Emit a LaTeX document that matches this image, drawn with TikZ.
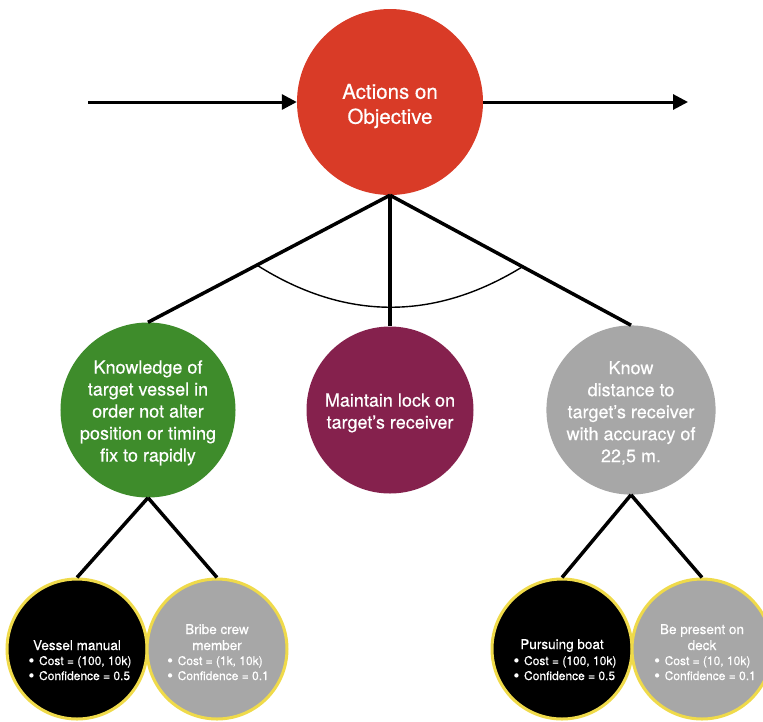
\documentclass[tikz,border=0pt]{standalone}
\usepackage{fontspec}
\setmainfont{TeX Gyre Heros}[FakeBold=0.4]
\usetikzlibrary{arrows.meta,calc}

\definecolor{goalred}{HTML}{D93B27}
\definecolor{subgreen}{HTML}{3E8C2B}
\definecolor{submaroon}{HTML}{85214D}
\definecolor{subgray}{HTML}{A7A7A7}
\definecolor{leafyellow}{HTML}{EFDA4A}

\begin{document}
\begin{tikzpicture}[x=1pt,y=-1pt,
  disc/.style={circle, inner sep=0pt, text=white, align=center},
  goalnode/.style={disc, fill=goalred, minimum size=186pt,
    font=\fontsize{20.5}{25}\selectfont},
  subnode/.style={disc, minimum size=167pt,
    font=\fontsize{18}{22}\selectfont},
  leafnode/.style={circle, inner sep=0pt, minimum size=140pt,
    draw=leafyellow, line width=3pt},
  leaftitle/.style={text=white, inner sep=0pt, anchor=base,
    font=\fontsize{13.5}{16}\selectfont},
  leafitems/.style={text=white, inner sep=0pt, anchor=base,
    font=\fontsize{12}{15}\selectfont},
  link/.style={line width=3.5pt},
  flow/.style={line width=3pt, -{Triangle[length=15pt,width=15pt]}},
  andarc/.style={line width=1.4pt}
]
\useasboundingbox (0,0) rectangle (763,721);
% bullet used in the leaf lists
\newcommand{\itm}{\raisebox{-1pt}{\scalebox{1.35}{\textbullet}}\hspace{0.4em}}
% first-line strut that lowers a centred text block
\newcommand{\lowerby}[2]{\rule{0pt}{#1}#2}

% top goal and its flow arrows
\node[goalnode] (goal) at (390,102) {\lowerby{23pt}{Actions on}\\Objective};
\coordinate (flowin) at (88,102);
\coordinate (flowout) at (688,102);
\draw[flow] (flowin) -- (goal.west);
\draw[flow] (goal.east) -- (flowout);

% sub-goals
\node[subnode, fill=subgreen] (know) at (148,410)
  {\lowerby{19pt}{Knowledge of}\\target vessel in\\order not alter\\position or timing\\fix to rapidly};
\node[subnode, fill=submaroon] (lock) at (390,410)
  {\lowerby{19pt}{Maintain lock on}\\target’s receiver};
\node[subnode, fill=subgray] (dist) at (631,410)
  {\lowerby{19pt}{Know}\\distance to\\target’s receiver\\with accuracy of\\22,5 m.};

\draw[link] (goal.south) -- (know.north);
\draw[link] (goal.south) -- (lock.north);
\draw[link] (goal.south) -- (dist.north);

% AND arc across the three branches
\coordinate (arcL) at ($(goal.south)!0.55!(know.north)$);
\coordinate (arcR) at ($(goal.south)!0.55!(dist.north)$);
\draw[andarc] (arcL) to[bend right=32] (arcR);

% leaves
\node[leafnode, fill=black] (manual) at (77,649) {};
\node[leafnode, fill=subgray] (bribe) at (217,649) {};
\node[leafnode, fill=black] (boat) at (562,649) {};
\node[leafnode, fill=subgray] (deck) at (702,649) {};

\draw[link] (know.south) -- (manual.north);
\draw[link] (know.south) -- (bribe.north);
\draw[link] (dist.south) -- (boat.north);
\draw[link] (dist.south) -- (deck.north);

% leaf texts
\node[leaftitle] (manualt) at ($(manual.center)+(0,1)$)
  {\begin{tabular}[b]{@{}c@{}}Vessel manual\end{tabular}};
\node[leafitems] (manuali) at ($(manual.center)+(3,16)$)
  {\begin{tabular}[t]{@{}l@{}}\itm Cost = (100, 10k)\\\itm Confidence = 0.5\end{tabular}};

\node[leaftitle] (bribet) at ($(bribe.center)+(0,1)$)
  {\begin{tabular}[b]{@{}c@{}}Bribe crew\\member\end{tabular}};
\node[leafitems] (bribei) at ($(bribe.center)+(1,16)$)
  {\begin{tabular}[t]{@{}l@{}}\itm Cost = (1k, 10k)\\\itm Confidence = 0.1\end{tabular}};

\node[leaftitle] (boatt) at ($(boat.center)+(0,0)$)
  {\begin{tabular}[b]{@{}c@{}}Pursuing boat\end{tabular}};
\node[leafitems] (boati) at ($(boat.center)+(3,16)$)
  {\begin{tabular}[t]{@{}l@{}}\itm Cost = (100, 10k)\\\itm Confidence = 0.5\end{tabular}};

\node[leaftitle] (deckt) at ($(deck.center)+(0,1)$)
  {\begin{tabular}[b]{@{}c@{}}Be present on\\deck\end{tabular}};
\node[leafitems] (decki) at ($(deck.center)+(3,16)$)
  {\begin{tabular}[t]{@{}l@{}}\itm Cost = (10, 10k)\\\itm Confidence = 0.1\end{tabular}};
\end{tikzpicture}
\end{document}
